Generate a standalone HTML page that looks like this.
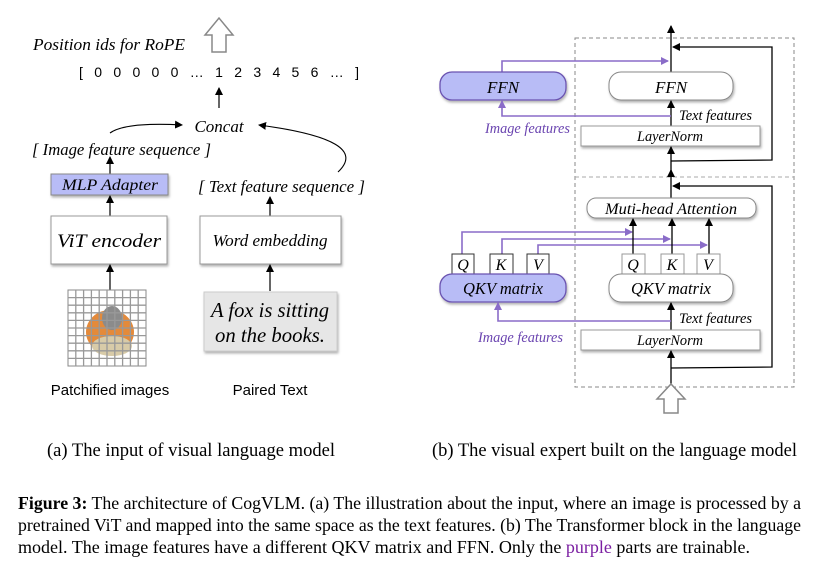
<!DOCTYPE html>
<html><head><meta charset="utf-8"><style>
html,body{margin:0;padding:0;background:#fff;width:819px;height:568px;overflow:hidden}
svg{display:block}
.it{font-family:"Liberation Serif",serif;font-style:italic}
.sr{font-family:"Liberation Serif",serif}
.ss{font-family:"Liberation Sans",sans-serif}
</style></head><body>
<svg width="819" height="568" viewBox="0 0 819 568">
<defs>
<marker id="ah" markerWidth="8" markerHeight="8" refX="7" refY="4" orient="auto" markerUnits="userSpaceOnUse"><path d="M0,0 L8,4 L0,8 Z" fill="#000"/></marker>
<marker id="ap" markerWidth="8" markerHeight="8" refX="7" refY="4" orient="auto" markerUnits="userSpaceOnUse"><path d="M0,0 L8,4 L0,8 Z" fill="#8a6cc8"/></marker>
<filter id="sh" x="-10%" y="-10%" width="130%" height="140%"><feDropShadow dx="1" dy="2" stdDeviation="1.2" flood-color="#000" flood-opacity="0.3"/></filter>
</defs>

<g>
<path d="M212,52 L212,35 L205,35 L219,18 L233,35 L226,35 L226,52 Z" fill="#fff" stroke="#888" stroke-width="1.5"/>
<text x="33" y="50" class="it" font-size="17" textLength="152" lengthAdjust="spacingAndGlyphs">Position ids for RoPE</text>
<text x="79" y="77" class="ss" font-size="14" textLength="280" lengthAdjust="spacing">[  0  0  0  0  0  …  1  2  3  4  5  6  …  ]</text>
<line x1="219" y1="108" x2="219" y2="88" stroke="#000" stroke-width="1.2" marker-end="url(#ah)"/>
<text x="219" y="132" class="it" font-size="17" text-anchor="middle">Concat</text>
<path d="M110,133 Q125,122 182,125" fill="none" stroke="#000" stroke-width="1.1" marker-end="url(#ah)"/>
<path d="M338,172 Q372,140 259,125" fill="none" stroke="#000" stroke-width="1.1" marker-end="url(#ah)"/>
<text x="32" y="155" class="it" font-size="17" textLength="179" lengthAdjust="spacingAndGlyphs">[ Image feature sequence ]</text>
<line x1="110" y1="174" x2="110" y2="157" stroke="#000" stroke-width="1.2" marker-end="url(#ah)"/>
<rect x="51" y="174" width="117" height="21" fill="#b8bcf6" stroke="#888" filter="url(#sh)"/>
<text x="110" y="190" class="it" font-size="16" text-anchor="middle" textLength="96" lengthAdjust="spacingAndGlyphs">MLP Adapter</text>
<line x1="110" y1="216" x2="110" y2="196" stroke="#000" stroke-width="1.2" marker-end="url(#ah)"/>
<rect x="51" y="216" width="116" height="48" fill="#fff" stroke="#999" filter="url(#sh)"/>
<text x="109" y="247" class="it" font-size="19" text-anchor="middle" textLength="104" lengthAdjust="spacingAndGlyphs">ViT encoder</text>
<line x1="110" y1="290" x2="110" y2="265" stroke="#000" stroke-width="1.2" marker-end="url(#ah)"/>
<g>
<rect x="68" y="290" width="78" height="76" fill="#fff" stroke="#888"/>
<ellipse cx="110" cy="332" rx="24" ry="22" fill="#e48a3a"/>
<ellipse cx="112" cy="346" rx="20" ry="10" fill="#d8cba8"/>
<ellipse cx="112" cy="318" rx="10" ry="12" fill="#8b8b8b"/>
<path d="M68,297.6 H146 M68,305.2 H146 M68,312.8 H146 M68,320.4 H146 M68,328 H146 M68,335.6 H146 M68,343.2 H146 M68,350.8 H146 M68,358.4 H146 M75.8,290 V366 M83.6,290 V366 M91.4,290 V366 M99.2,290 V366 M107,290 V366 M114.8,290 V366 M122.6,290 V366 M130.4,290 V366 M138.2,290 V366" stroke="#999" stroke-width="1.3"/>
</g>
<text x="110" y="395" class="ss" font-size="15" text-anchor="middle">Patchified images</text>
<text x="198" y="192" class="it" font-size="17" textLength="167" lengthAdjust="spacingAndGlyphs">[ Text  feature sequence ]</text>
<line x1="270" y1="216" x2="270" y2="197" stroke="#000" stroke-width="1.2" marker-end="url(#ah)"/>
<rect x="200" y="216" width="141" height="48" fill="#fff" stroke="#999" filter="url(#sh)"/>
<text x="270" y="246" class="it" font-size="17" text-anchor="middle" textLength="115" lengthAdjust="spacingAndGlyphs">Word embedding</text>
<line x1="270" y1="291" x2="270" y2="265" stroke="#000" stroke-width="1.2" marker-end="url(#ah)"/>
<rect x="204" y="292" width="133" height="59" fill="#e6e6e6" stroke="#ccc" filter="url(#sh)"/>
<text x="270" y="317" class="it" font-size="21" text-anchor="middle" textLength="118" lengthAdjust="spacingAndGlyphs">A fox is sitting</text>
<text x="270" y="342" class="it" font-size="21" text-anchor="middle" textLength="110" lengthAdjust="spacingAndGlyphs">on the books.</text>
<text x="270" y="395" class="ss" font-size="15" text-anchor="middle">Paired Text</text>
</g>

<g>
<rect x="575" y="38" width="219" height="349" fill="none" stroke="#888" stroke-dasharray="4,3"/>
<line x1="575" y1="177" x2="794" y2="177" stroke="#aaa" stroke-dasharray="4,3"/>
<line x1="671" y1="72" x2="671" y2="26" stroke="#000" stroke-width="1.3" marker-end="url(#ah)"/>
<polyline points="671,161 772,160 772,47 673,47" fill="none" stroke="#000" stroke-width="1.3" marker-end="url(#ah)"/>
<polyline points="502,72 502,61 668,61" fill="none" stroke="#8a6cc8" stroke-width="1.6" marker-end="url(#ap)"/>
<rect x="440" y="72" width="126" height="28" rx="12" fill="#b8bcf6" stroke="#6a52b0" stroke-width="1.3" filter="url(#sh)"/>
<text x="503" y="93" class="it" font-size="17" text-anchor="middle">FFN</text>
<rect x="609" y="72" width="124" height="28" rx="12" fill="#fff" stroke="#888" filter="url(#sh)"/>
<text x="671" y="93" class="it" font-size="17" text-anchor="middle">FFN</text>
<line x1="671" y1="126" x2="671" y2="101" stroke="#000" stroke-width="1.3" marker-end="url(#ah)"/>
<polyline points="671,116 502,116 502,101" fill="none" stroke="#8a6cc8" stroke-width="1.6" marker-end="url(#ap)"/>
<text x="679" y="120" class="it" font-size="15" textLength="73" lengthAdjust="spacingAndGlyphs">Text features</text>
<text x="485" y="133" class="it" font-size="15" fill="#6a44b0" textLength="85" lengthAdjust="spacingAndGlyphs">Image features</text>
<rect x="581" y="126" width="179" height="20" fill="#fff" stroke="#999" filter="url(#sh)"/>
<text x="670" y="141" class="it" font-size="15" text-anchor="middle" textLength="66" lengthAdjust="spacingAndGlyphs">LayerNorm</text>
<line x1="671" y1="177" x2="671" y2="147" stroke="#000" stroke-width="1.3" marker-end="url(#ah)"/>
<line x1="671" y1="198" x2="671" y2="170" stroke="#000" stroke-width="1.3" marker-end="url(#ah)"/>
<polyline points="671,368 772,367 772,186 673,186" fill="none" stroke="#000" stroke-width="1.3" marker-end="url(#ah)"/>
<rect x="587" y="198" width="169" height="20" rx="9" fill="#fff" stroke="#888" filter="url(#sh)"/>
<text x="671" y="214" class="it" font-size="16" text-anchor="middle" textLength="132" lengthAdjust="spacingAndGlyphs">Muti-head Attention</text>
<polyline points="462,254 462,232 632,232" fill="none" stroke="#8a6cc8" stroke-width="1.6" marker-end="url(#ap)"/>
<polyline points="502,254 502,239 670,239" fill="none" stroke="#8a6cc8" stroke-width="1.6" marker-end="url(#ap)"/>
<polyline points="538,254 538,245 707,245" fill="none" stroke="#8a6cc8" stroke-width="1.6" marker-end="url(#ap)"/>
<line x1="633" y1="254" x2="633" y2="219" stroke="#000" stroke-width="1.3" marker-end="url(#ah)"/>
<line x1="672" y1="254" x2="672" y2="219" stroke="#000" stroke-width="1.3" marker-end="url(#ah)"/>
<line x1="709" y1="254" x2="709" y2="219" stroke="#000" stroke-width="1.3" marker-end="url(#ah)"/>
<g class="it" font-size="16" text-anchor="middle">
<rect x="452" y="254" width="22" height="20" fill="#fff" stroke="#333"/><text x="463" y="270">Q</text>
<rect x="490" y="254" width="23" height="20" fill="#fff" stroke="#333"/><text x="501" y="270">K</text>
<rect x="527" y="254" width="22" height="20" fill="#fff" stroke="#333"/><text x="538" y="270">V</text>
<rect x="622" y="254" width="23" height="20" fill="#fff" stroke="#999"/><text x="633" y="270">Q</text>
<rect x="661" y="254" width="23" height="20" fill="#fff" stroke="#999"/><text x="672" y="270">K</text>
<rect x="697" y="254" width="23" height="20" fill="#fff" stroke="#999"/><text x="708" y="270">V</text>
</g>
<rect x="440" y="274" width="126" height="28" rx="12" fill="#b8bcf6" stroke="#6a52b0" stroke-width="1.3" filter="url(#sh)"/>
<text x="503" y="294" class="it" font-size="17" text-anchor="middle" textLength="80" lengthAdjust="spacingAndGlyphs">QKV matrix</text>
<rect x="609" y="274" width="124" height="28" rx="12" fill="#fff" stroke="#888" filter="url(#sh)"/>
<text x="671" y="294" class="it" font-size="17" text-anchor="middle" textLength="80" lengthAdjust="spacingAndGlyphs">QKV matrix</text>
<line x1="671" y1="330" x2="671" y2="303" stroke="#000" stroke-width="1.3" marker-end="url(#ah)"/>
<polyline points="671,321 498,321 498,303" fill="none" stroke="#8a6cc8" stroke-width="1.6" marker-end="url(#ap)"/>
<text x="679" y="323" class="it" font-size="15" textLength="73" lengthAdjust="spacingAndGlyphs">Text features</text>
<text x="478" y="342" class="it" font-size="15" fill="#6a44b0" textLength="85" lengthAdjust="spacingAndGlyphs">Image features</text>
<rect x="581" y="330" width="179" height="20" fill="#fff" stroke="#999" filter="url(#sh)"/>
<text x="670" y="345" class="it" font-size="15" text-anchor="middle" textLength="66" lengthAdjust="spacingAndGlyphs">LayerNorm</text>
<line x1="671" y1="386" x2="671" y2="351" stroke="#000" stroke-width="1.3" marker-end="url(#ah)"/>
<path d="M664,413 L664,399 L657,399 L671,384 L685,399 L678,399 L678,413 Z" fill="#fff" stroke="#888" stroke-width="1.5"/>
</g>

<text x="47" y="456" class="sr" font-size="18.5" textLength="288" lengthAdjust="spacingAndGlyphs">(a) The input of visual language model</text>
<text x="432" y="456" class="sr" font-size="18.5" textLength="365" lengthAdjust="spacingAndGlyphs">(b) The visual expert built on the language model</text>
<g class="sr" font-size="18">
<text x="18" y="509" textLength="783" lengthAdjust="spacingAndGlyphs"><tspan font-weight="bold">Figure 3:</tspan> The architecture of CogVLM. (a) The illustration about the input, where an image is processed by a</text>
<text x="18" y="531" textLength="783" lengthAdjust="spacingAndGlyphs">pretrained ViT and mapped into the same space as the text features. (b) The Transformer block in the language</text>
<text x="18" y="553" textLength="732" lengthAdjust="spacingAndGlyphs">model. The image features have a different QKV matrix and FFN. Only the <tspan fill="#7b1fa2">purple</tspan> parts are trainable.</text>
</g>
</svg>
</body></html>
